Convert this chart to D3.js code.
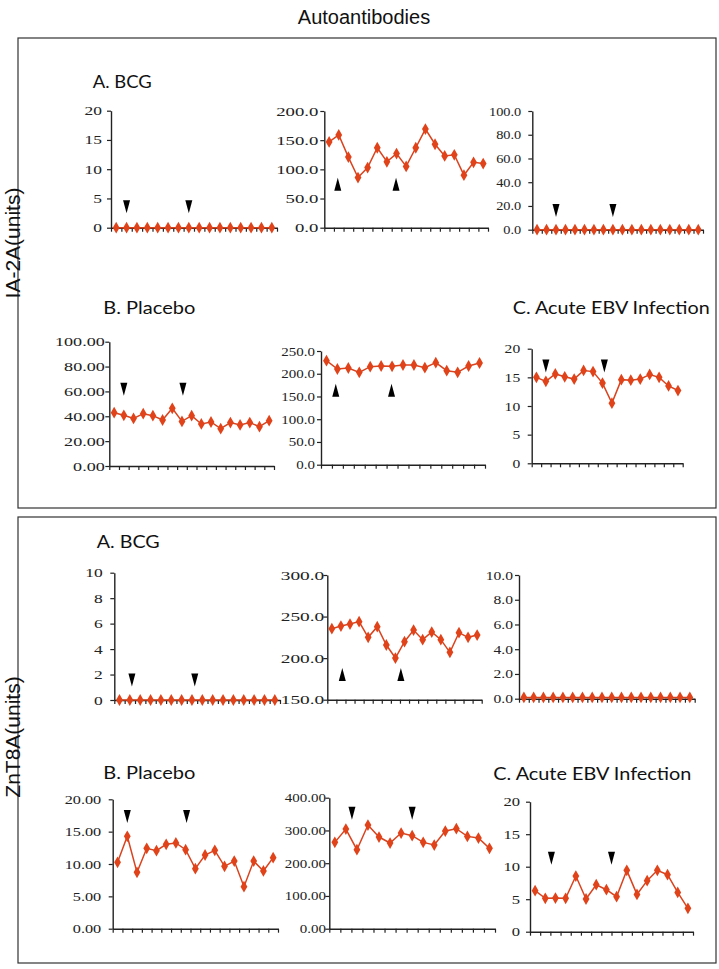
<!DOCTYPE html>
<html>
<head>
<meta charset="utf-8">
<script src="https://cdn.jsdelivr.net/npm/d3@7"></script>
<style>
  html, body { margin: 0; padding: 0; background: #fff; }
  svg { display: block; }
</style>
</head>
<body>
<svg id="chart" width="719" height="969"></svg>
<script>
// ---------------- DATA ----------------
const mainTitle = "Autoantibodies";
const sideLabels = ["IA-2A(units)", "ZnT8A(units)"];
const subTitles = ["A. BCG", "B. Placebo", "C. Acute EBV Infection", "A. BCG", "B. Placebo", "C. Acute EBV Infection"];

// IA-2A
const ia2aBcg1 = [0,0,0,0,0,0,0,0,0,0,0,0,0,0,0,0];
const ia2aBcg2 = [147,159,121,86,103,137,113,127,105,137,169,143,123,125,90,112,110];
const ia2aBcg3 = [0,0,0,0,0,0,0,0,0,0,0,0,0,0,0,0,0,0];
const ia2aPlacebo1 = [42.9,40.8,38.3,42.1,40.5,37.0,46.4,35.9,40.5,33.8,35.4,30.0,34.9,33.0,34.9,31.6,36.5];
const ia2aPlacebo2 = [228.7,210.4,212.6,203.1,215.5,217,216.3,219.2,219.2,213.3,224.3,206.7,203.1,217,223.6];
const ia2aEbv = [15.0,14.3,15.6,15.1,14.7,16.2,16.0,14.0,10.5,14.6,14.5,14.7,15.5,15.0,13.5,12.7];

// ZnT8A
const znt8aBcg1 = [0,0,0,0,0,0,0,0,0,0,0,0,0,0,0,0];
const znt8aBcg2 = [235.4,238.6,241,243.9,225,237.8,215.8,200.1,219.8,233.8,222.2,231.4,222.2,207,230.6,225,227.8];
const znt8aBcg3 = [0.1,0.1,0.1,0.1,0.1,0.1,0.1,0.1,0.1,0.1,0.1,0.1,0.1,0.1,0.1,0.1,0.1,0.1];
const znt8aPlacebo1 = [10.26,14.28,8.71,12.42,12.06,13.04,13.25,12.22,9.28,11.39,12.11,9.64,10.46,6.49,10.46,8.92,10.98];
const znt8aPlacebo2 = [263.6,304.3,241.2,316.5,279.9,261.6,292.1,284,263.6,255.5,298.2,305.3,281.9,276.8,245.3];
const znt8aEbv = [6.31,5.13,5.18,5.13,8.56,5.03,7.23,6.46,5.38,9.44,5.74,7.85,9.44,8.77,6.05,3.59];

// y-axis domains and tick labels
const yDomains = [[0,20],[0,200],[0,100],[0,100],[0,250],[0,20],[0,10],[150,300],[0,10],[0,20],[0,400],[0,20]];
const yTickValues = [
  [0,5,10,15,20],
  [0,50,100,150,200],
  [0,20,40,60,80,100],
  [0,20,40,60,80,100],
  [0,50,100,150,200,250],
  [0,5,10,15,20],
  [0,2,4,6,8,10],
  [150,200,250,300],
  [0,2,4,6,8,10],
  [0,5,10,15,20],
  [0,100,200,300,400],
  [0,5,10,15,20]
];
const yTickFormats = ["d",".1f",".1f",".2f",".1f","d","d",".1f",".1f",".2f",".2f","d"];

// arrowheads: category position (index) and value at the arrow's wide end; dir -1 = pointing down, 1 = up
const arrowIdx = [[1,7],[0.9,6.95],[2,8],[1,7.1],[0.85,5.95],[1,7.2],[1.2,7.27],[1.15,7.6],[],[1,7.1],[1.55,7],[1.6,7.5]];
const arrowVal = [[4.7,4.7],[63.4,63.4],[21.6,21.6],[67,67],[149.6,149.6],[18.1,18.1],[2.09,2.09],[172.5,172.5],[],[18.35,18.35],[372.5,372.5],[12.3,12.3]];
const arrowDir = [-1,1,-1,-1,1,-1,-1,1,-1,-1,-1,-1];

const series = [ia2aBcg1, ia2aBcg2, ia2aBcg3, ia2aPlacebo1, ia2aPlacebo2, ia2aEbv,
                znt8aBcg1, znt8aBcg2, znt8aBcg3, znt8aPlacebo1, znt8aPlacebo2, znt8aEbv];

// ---------------- LAYOUT ----------------
const layout = [
  {x0:111,   x1:277,   yTop:110.7, yBot:227.7, gap:9,   sx:1.4},
  {x0:324.3, x1:488,   yTop:111,   yBot:227.7, gap:6,   sx:1.5},
  {x0:532.3, x1:703,   yTop:111,   yBot:229.7, gap:11,  sx:1.15},
  {x0:109.3, x1:274,   yTop:341.7, yBot:466,   gap:4.5, sx:1.45},
  {x0:321,   x1:485,   yTop:351,   yBot:464.7, gap:6,   sx:1.2},
  {x0:531.7, x1:682.7, yTop:348.7, yBot:463.3, gap:11.5,sx:1.25},
  {x0:114.3, x1:280,   yTop:572.7, yBot:700,   gap:11.5,sx:1.4},
  {x0:327.3, x1:481.7, yTop:575,   yBot:699.7, gap:3,   sx:1.55},
  {x0:519,   x1:694.7, yTop:575,   yBot:698.7, gap:6,   sx:1.25},
  {x0:112.7, x1:278,   yTop:799.3, yBot:928.7, gap:11.5,sx:1.3},
  {x0:329.3, x1:495,   yTop:797.7, yBot:928.7, gap:3.3, sx:1.2},
  {x0:530,   x1:693,   yTop:801.7, yBot:931.7, gap:10,  sx:1.33}
];
const subTitlePos = [
  {x:92.7, y:88,    w:59},
  {x:103.3,y:314,   w:92},
  {x:512.7,y:314,   w:197},
  {x:96.7, y:548.3, w:63},
  {x:103.3,y:779,   w:92},
  {x:493.3,y:780,   w:198}
];
const boxes = [{x:18,y:38,w:698,h:470},{x:18,y:517,w:698,h:446}];
const sideLabelPos = [{x:13,y:243},{x:13,y:737}];

const lineColor = "#d9431e";
const markerColor = "#e0431a";

const svg = d3.select("#chart");

// boxes
svg.selectAll("rect.box").data(boxes).join("rect")
  .attr("class","box")
  .attr("x",d=>d.x).attr("y",d=>d.y).attr("width",d=>d.w).attr("height",d=>d.h)
  .attr("fill","none").attr("stroke","#333").attr("stroke-width",1.2);

// main title
svg.append("text").attr("x",364).attr("y",24).attr("text-anchor","middle")
  .attr("font-family","Liberation Sans, Arial, sans-serif").attr("font-size",20)
  .attr("fill","#111").text(mainTitle);

// side labels
sideLabels.forEach((t,i)=>{
  const p = sideLabelPos[i];
  svg.append("text").attr("transform",`translate(${p.x},${p.y}) rotate(-90)`)
    .attr("text-anchor","middle").attr("dy","0.35em")
    .attr("font-family","Liberation Sans, Arial, sans-serif").attr("font-size",21)
    .attr("fill","#111").text(t);
});

// subtitles
subTitles.forEach((t,i)=>{
  const p = subTitlePos[i];
  svg.append("text").attr("x",p.x).attr("y",p.y)
    .attr("font-family","Lato, 'Open Sans', sans-serif").attr("font-size",18)
    .attr("textLength",p.w).attr("lengthAdjust","spacingAndGlyphs")
    .attr("fill","#111").text(t);
});

const diamond = d3.symbol().type(d3.symbolDiamond).size(40);

series.forEach((vals,i)=>{
  const L = layout[i];
  const n = vals.length;
  const x = d3.scaleLinear().domain([0,n]).range([L.x0,L.x1]);
  const y = d3.scaleLinear().domain(yDomains[i]).range([L.yBot,L.yTop]);
  const g = svg.append("g");

  // y axis
  const yAx = g.append("g").attr("transform",`translate(${L.x0},0)`)
    .call(d3.axisLeft(y).tickValues(yTickValues[i]).tickFormat(d3.format(yTickFormats[i]))
      .tickSize(4).tickSizeOuter(0).tickPadding(L.gap-4));
  yAx.select(".domain").attr("stroke","#222").attr("stroke-width",1.4);
  yAx.selectAll(".tick line").attr("stroke","#222").attr("stroke-width",1.2);
  yAx.selectAll(".tick text")
    .attr("font-family","'Liberation Serif', 'Times New Roman', serif")
    .attr("font-size",12.5).attr("fill","#222")
    .attr("transform",function(){ const tx = +d3.select(this).attr("x"); return `translate(${tx},0) scale(${L.sx},1) translate(${-tx},0)`; });

  // x axis
  const xAx = g.append("g").attr("transform",`translate(0,${L.yBot})`)
    .call(d3.axisBottom(x).tickValues(d3.range(0,n+1)).tickFormat("").tickSize(4).tickSizeOuter(0));
  xAx.select(".domain").attr("stroke","#222").attr("stroke-width",1.4);
  xAx.selectAll(".tick line").attr("stroke","#222").attr("stroke-width",1.2);

  // line
  const line = d3.line().x((d,j)=>x(j+0.5)).y(d=>y(d));
  g.append("path").datum(vals).attr("d",line)
    .attr("fill","none").attr("stroke",lineColor).attr("stroke-width",1.5);

  // markers
  g.selectAll("path.mk").data(vals).join("path").attr("class","mk")
    .attr("d",diamond)
    .attr("transform",(d,j)=>`translate(${x(j+0.5)},${y(d)})`)
    .attr("fill",markerColor);

  // arrowheads
  const dir = arrowDir[i];
  arrowIdx[i].forEach((ai,k)=>{
    const ax = x(ai+0.5), ay = y(arrowVal[i][k]);
    const h = 13, w = 7;
    const tipY = ay - dir*h;
    g.append("path")
      .attr("d",`M${ax-w/2},${ay} L${ax+w/2},${ay} L${ax},${tipY} Z`)
      .attr("fill","#000");
  });
});
</script>
</body>
</html>
